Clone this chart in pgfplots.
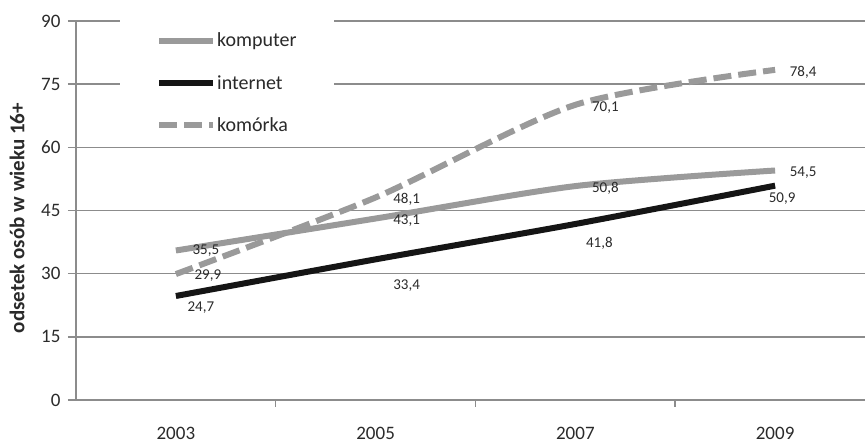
\documentclass[border=0pt]{standalone}
\usepackage{fontspec}
\setmainfont{Carlito}
\usepackage{pgfplots}
\pgfplotsset{compat=1.18}
\usepackage{pgfplotstable}

\definecolor{lightline}{HTML}{9A9A9A}
\definecolor{darkline}{HTML}{151515}
\definecolor{gridgray}{HTML}{8C8C8C}
\definecolor{txt}{HTML}{2A2A2A}

% x = year index (0 = 2003), y = share in %, dx/dy = label offset
\pgfplotstableread{
x y    dx dy
0 35.5 30 0
1 43.1 31 2
2 50.8 30 2
3 54.5 28 2.5
}\komputer
\pgfplotstableread{
x y    dx dy
0 24.7 25 12
1 33.4 31 26
2 41.8 24 19
3 50.9 7  13
}\internet
\pgfplotstableread{
x y    dx dy
0 29.9 32 2
1 48.1 31 1.5
2 70.1 30 3
3 78.4 28 2
}\komorka

\begin{document}
\begin{tikzpicture}
\useasboundingbox (-76pt,-46pt) rectangle (789pt,400pt);
\begin{axis}[
  at={(0pt,0pt)}, anchor=south west,
  scale only axis, width=789pt, height=379pt,
  xmin=-0.5, xmax=3.45, ymin=0, ymax=90,
  axis lines*=left,
  axis line style={gridgray, line width=1.8pt},
  ytick={0,15,...,90},
  xtick={0,1,2,3}, xticklabels={2003,2005,2007,2009},
  minor xtick={0.5,1.5,2.5},
  ymajorgrids,
  grid style={gridgray, line width=1.6pt},
  tick align=outside,
  major tick length=8pt, minor tick length=7pt,
  tick style={gridgray, line width=1.5pt},
  major x tick style={draw=none},
  /pgf/number format/assume math mode=true,
  ticklabel style={font=\fontsize{19}{22}\selectfont, text=txt},
  yticklabel style={xshift=-4pt},
  xticklabel style={yshift=-16pt},
  ylabel={odsetek osób w wieku 16+},
  ylabel style={at={(axis description cs:-0.0748,0.48)}, anchor=center,
    rotate=0, font=\fontsize{21}{24}\selectfont\bfseries, text=txt},
  legend style={at={(0.0558,1.003)}, anchor=north west, draw=none, fill=white,
    inner xsep=36pt, inner ysep=13pt, row sep=27pt,
    font=\fontsize{20}{24}\selectfont, text=txt,
    cells={anchor=west}, nodes={inner xsep=1pt, inner ysep=0pt}},
  legend image code/.code={\draw[#1] (0pt,0pt) -- (54pt,0pt);},
  every axis plot/.append style={smooth, tension=0.45, line width=6pt, no markers},
  nodes near coords,
  nodes near coords style={anchor=center, xshift=\dx pt, yshift=-\dy pt,
    font=\fontsize{15}{18}\selectfont, text=txt,
    /pgf/number format/.cd, use comma, fixed, fixed zerofill, precision=1,
    assume math mode=true},
  visualization depends on={\thisrow{dx} \as \dx},
  visualization depends on={\thisrow{dy} \as \dy},
]
\addplot[color=lightline] table[x=x, y=y] {\komputer};
\addlegendentry{komputer}
\addplot[color=darkline] table[x=x, y=y] {\internet};
\addlegendentry{internet}
\addplot[color=lightline, dash pattern=on 18pt off 7pt] table[x=x, y=y] {\komorka};
\addlegendentry{komórka}
\end{axis}
\end{tikzpicture}
\end{document}
